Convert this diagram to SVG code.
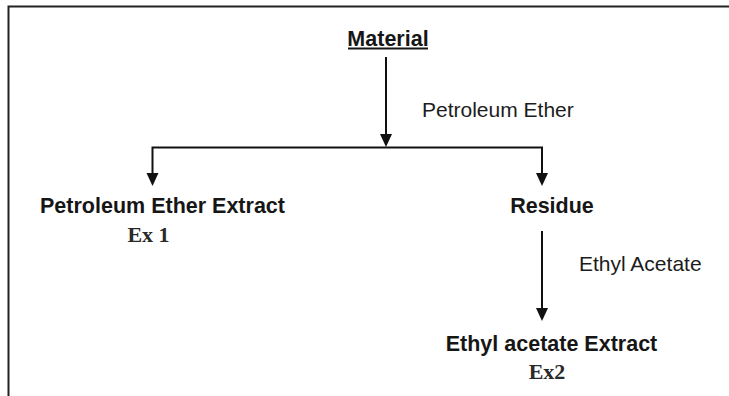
<svg xmlns="http://www.w3.org/2000/svg" width="729" height="396" viewBox="0 0 729 396">
<style>
.b{font-family:"Liberation Sans",Arial,sans-serif;font-weight:bold;font-size:21.5px;fill:#161616}
.r{font-family:"Liberation Sans",Arial,sans-serif;font-size:21px;fill:#1c1c1c}
.s{font-family:"Liberation Serif","Times New Roman",serif;font-weight:bold;font-size:22px;fill:#2a2a2a}
.ln{stroke:#111;stroke-width:2;fill:none}
.ah{fill:#111}
</style>
<rect width="729" height="396" fill="#fff"/>
<g id="frame">
<path d="M8.5,396 V6.5 H729" stroke="#222" stroke-width="2" fill="none"/>
</g>
<g id="connectors">
<path class="ln" d="M386,57 V134"/>
<path class="ah" d="M380,134 H392 L386,147 Z"/>
<path class="ln" d="M152.5,173 V147.5 H542 V173"/>
<path class="ah" d="M146.5,173 H158.5 L152.5,186 Z"/>
<path class="ah" d="M536,173 H548 L542,186 Z"/>
<path class="ln" d="M542,231 V308"/>
<path class="ah" d="M536,308 H548 L542,321 Z"/>
</g>
<g id="label-pe">
<text class="r" x="422" y="117">Petroleum Ether</text>
</g>
<g id="label-ea">
<text class="r" x="579" y="271">Ethyl Acetate</text>
</g>
<g id="node-material">
<text class="b" x="388" y="46" text-anchor="middle">Material</text>
<line x1="348" y1="48.5" x2="428" y2="48.5" stroke="#161616" stroke-width="2"/>
</g>
<g id="node-pee">
<text class="b" x="162.5" y="213" text-anchor="middle">Petroleum Ether Extract</text>
<text class="s" x="148.5" y="242" text-anchor="middle">Ex 1</text>
</g>
<g id="node-residue">
<text class="b" x="552" y="213" text-anchor="middle">Residue</text>
</g>
<g id="node-eae">
<text class="b" x="551.5" y="351" text-anchor="middle">Ethyl acetate Extract</text>
<text class="s" x="547" y="379" text-anchor="middle">Ex2</text>
</g>
</svg>
